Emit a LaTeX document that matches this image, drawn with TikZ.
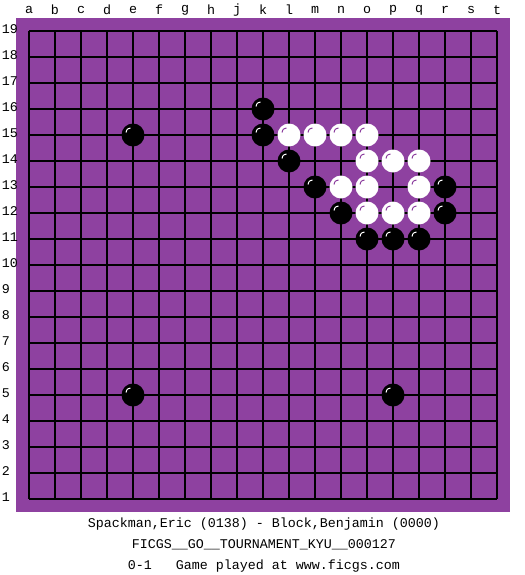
\documentclass[tikz,border=0pt]{standalone}
\usepackage{fontspec}
\setmonofont{Liberation Mono}
\usetikzlibrary{calc}
\definecolor{boardc}{RGB}{142,65,160}
\tikzset{
  gridline/.style={black, line width=0.9pt},
  lbl/.style={font=\ttfamily\fontsize{10pt}{12pt}\selectfont, inner sep=0pt, text=black},
  rowlbl/.style={lbl, anchor=west},
  bstone/.style={circle, fill=black, minimum size=17.25pt, inner sep=0pt},
  wstone/.style={circle, fill=white, minimum size=17.25pt, inner sep=0pt},
  hlb/.style={white, line width=0.75pt},
  hlw/.style={boardc, line width=0.75pt},
}
\newcommand\gostone[5]{%
  \node[#4] (#1) at ({29+#2*26},{31+(19-#3)*26}) {};
  \draw[#5] ($(#1.center)+(-7,-2.5)$) .. controls ($(#1.center)+(-6,-6)$) .. ($(#1.center)+(-2.5,-7)$);
}
\begin{document}
\begin{tikzpicture}[x=0.75pt,y=-0.75pt]
\useasboundingbox (0,0) rectangle (525,575);
\fill[boardc] (16,18) rectangle (510,512);
\foreach \i in {0,...,18} {
  \draw[gridline] ({29+\i*26},31) -- ({29+\i*26},499);
  \draw[gridline] (29,{31+\i*26}) -- (497,{31+\i*26});
}
\foreach \l [count=\i from 0] in {a,b,c,d,e,f,g,h,j,k,l,m,n,o,p,q,r,s,t}
  \node[lbl] (col\l) at ({29+\i*26},10) {\l};
\foreach \r in {1,...,19}
  \node[rowlbl] (row\r) at (1.5,{29+(19-\r)*26}) {\r};
% black stones
\gostone{k16}{9}{16}{bstone}{hlb}
\gostone{k15}{9}{15}{bstone}{hlb}
\gostone{l14}{10}{14}{bstone}{hlb}
\gostone{m13}{11}{13}{bstone}{hlb}
\gostone{n12}{12}{12}{bstone}{hlb}
\gostone{o11}{13}{11}{bstone}{hlb}
\gostone{p11}{14}{11}{bstone}{hlb}
\gostone{q11}{15}{11}{bstone}{hlb}
\gostone{r13}{16}{13}{bstone}{hlb}
\gostone{r12}{16}{12}{bstone}{hlb}
\gostone{e15}{4}{15}{bstone}{hlb}
\gostone{e5}{4}{5}{bstone}{hlb}
\gostone{p5}{14}{5}{bstone}{hlb}
% white stones
\gostone{l15}{10}{15}{wstone}{hlw}
\gostone{m15}{11}{15}{wstone}{hlw}
\gostone{n15}{12}{15}{wstone}{hlw}
\gostone{o15}{13}{15}{wstone}{hlw}
\gostone{o14}{13}{14}{wstone}{hlw}
\gostone{p14}{14}{14}{wstone}{hlw}
\gostone{q14}{15}{14}{wstone}{hlw}
\gostone{n13}{12}{13}{wstone}{hlw}
\gostone{o13}{13}{13}{wstone}{hlw}
\gostone{q13}{15}{13}{wstone}{hlw}
\gostone{o12}{13}{12}{wstone}{hlw}
\gostone{p12}{14}{12}{wstone}{hlw}
\gostone{q12}{15}{12}{wstone}{hlw}
% captions
\node[lbl] (players) at (264,524) {Spackman,Eric (0138) - Block,Benjamin (0000)};
\node[lbl] (event) at (264,545) {FICGS\_\_GO\_\_TOURNAMENT\_KYU\_\_000127};
\node[lbl] (result) at (264,566) {0-1\ \ \ Game played at www.ficgs.com};
\end{tikzpicture}
\end{document}
